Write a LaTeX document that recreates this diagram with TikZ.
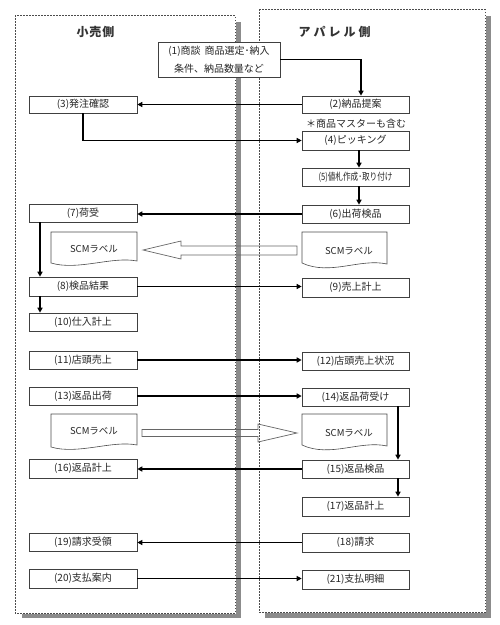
\documentclass[tikz,border=0pt]{standalone}
\usepackage{fontspec}
\setmainfont{Noto Sans CJK JP}
\usetikzlibrary{arrows.meta,calc}
\tikzset{
 box/.style={draw=black!75, line width=0.6pt, fill=white, minimum height=18pt, inner sep=0pt, font=\fontsize{10}{12}\selectfont, text=black!85},
 lbox/.style={box, minimum width=108pt},
 rbox/.style={box, minimum width=107pt},
 conn/.style={line width=1.6pt, -{Triangle[length=5pt,width=5pt]}},
 panel/.style={draw=black!70, line width=0.6pt, dash pattern=on 1.5pt off 1.5pt},
 shadowbar/.style={fill=black!45, draw=none},
 doc/.style={draw=black!70, line width=0.6pt, fill=white},
 hollow/.style={draw=black!60, line width=0.7pt},
 title/.style={font=\fontsize{12}{14}\selectfont\bfseries, text=black!80},
 doctext/.style={font=\fontsize{9.5}{11}\selectfont, text=black!85},
}
\begin{document}
\begin{tikzpicture}[x=1pt,y=-1pt]
\useasboundingbox (0,0) rectangle (500,625);
% panels
\draw[panel] (15,15) rectangle (235,613);
\draw[panel] (259,9) rectangle (485,612);
\fill[shadowbar] (236,22) rectangle (241,618);
\fill[shadowbar] (22,614) rectangle (241,618);
\fill[shadowbar] (486,16) rectangle (491,618);
\fill[shadowbar] (265,613) rectangle (491,618);
% titles
\node[title] (t1) at (95.5,32) {小\kern1pt 売\kern1pt 側};
\node[title] (t2) at (334.5,32) {ア\kern3pt パ\kern3pt レ\kern3pt ル\kern3pt 側};
% boxes
\node[box, minimum width=122pt, minimum height=35pt, align=center, font=\fontsize{10}{18}\selectfont] (b1) at (219,59.5) {(1)商談\hspace{4pt}商品選定･納入\\条件、納品数量など};
\node[rbox, minimum height=17pt] (b2) at (355.5,104.5) {(2)納品提案};
\node[lbox, minimum height=17pt] (b3) at (83,104.5) {(3)発注確認};
\node[font=\fontsize{10}{12}\selectfont, text=black!85] (note) at (356,124) {＊商品マスターも含む};
\node[rbox, minimum height=19pt] (b4) at (355.5,140.5) {(4)ピッキング};
\node[rbox] (b5) at (355.5,177) {\scalebox{0.76}[1]{(5)値札作成･取り付け}};
\node[rbox] (b6) at (355.5,214) {(6)出荷検品};
\node[lbox] (b7) at (83,213) {(7)荷受};
\node[lbox, minimum height=19pt] (b8) at (83,286.5) {(8)検品結果};
\node[rbox, minimum height=19pt] (b9) at (355.5,287.5) {(9)売上計上};
\node[lbox] (b10) at (83,322) {(10)仕入計上};
\node[lbox] (b11) at (83,360) {(11)店頭売上};
\node[rbox] (b12) at (355.5,361) {(12)店頭売上状況};
\node[lbox] (b13) at (83,396) {(13)返品出荷};
\node[rbox] (b14) at (355.5,397) {(14)返品荷受け};
\node[rbox] (b15) at (355.5,469) {(15)返品検品};
\node[lbox, minimum height=19pt] (b16) at (83,468.5) {(16)返品計上};
\node[rbox, minimum height=19pt] (b17) at (355.5,506.5) {(17)返品計上};
\node[rbox, minimum height=19pt] (b18) at (355.5,542.5) {(18)請求};
\node[lbox] (b19) at (83,542) {(19)請求受領};
\node[lbox, minimum height=19pt] (b20) at (83,578.5) {(20)支払案内};
\node[rbox, minimum height=19pt] (b21) at (355.5,579.5) {(21)支払明細};
% SCM label documents
\draw[doc] (51,232) -- (137,232) -- (137,261) .. controls (112,256) and (78,271) .. (51,263) -- cycle;
\node[doctext] (d1) at (94,249) {SCMラベル};
\draw[doc] (302,232) -- (387,232) -- (387,264) .. controls (360,258) and (330,276) .. (302,263) -- cycle;
\node[doctext] (d2) at (349,251) {SCMラベル};
\draw[doc] (51,414) -- (137,414) -- (137,445) .. controls (112,440) and (78,455) .. (51,447) -- cycle;
\node[doctext] (d3) at (94,431) {SCMラベル};
\draw[doc] (302,414) -- (387,414) -- (387,446) .. controls (360,440) and (330,458) .. (302,445) -- cycle;
\node[doctext] (d4) at (349,433) {SCMラベル};
% hollow arrows
\draw[hollow] (297,246) -- (181,246) -- (181,241) -- (143,250) -- (181,259) -- (181,255) -- (297,255) -- cycle;
\draw[hollow] (142,429.5) -- (258,429.5) -- (258,424) -- (297,433) -- (258,442) -- (258,436.5) -- (142,436.5) -- cycle;
% connectors
\draw[conn] (b1.east) -| ([xshift=5.5pt]b2.north);
\draw[conn] (b2.west) -- (b3.east);
\draw[conn] (b3.south) |- (b4.west);
\draw[conn] ([xshift=3.5pt]b4.south) -- ([xshift=3.5pt]b5.north);
\draw[conn] ([xshift=3.5pt]b5.south) -- ([xshift=3.5pt]b6.north);
\draw[conn] (b6.west) -- (b6.west -| b7.east);
\draw[conn] ([xshift=-43pt]b7.south) -- ([xshift=-43pt]b8.north);
\draw[conn] (b8.east) -- (b8.east -| b9.west);
\draw[conn] ([xshift=-43pt]b8.south) -- ([xshift=-43pt]b10.north);
\draw[conn] (b11.east) -- (b11.east -| b12.west);
\draw[conn] (b13.east) -- (b13.east -| b14.west);
\draw[conn] ([xshift=42.5pt]b14.south) -- ([xshift=42.5pt]b15.north);
\draw[conn] (b15.west) -- (b15.west -| b16.east);
\draw[conn] ([xshift=42.5pt]b15.south) -- ([xshift=42.5pt]b17.north);
\draw[conn] (b18.west) -- (b18.west -| b19.east);
\draw[conn] (b20.east) -- (b20.east -| b21.west);
\end{tikzpicture}
\end{document}
